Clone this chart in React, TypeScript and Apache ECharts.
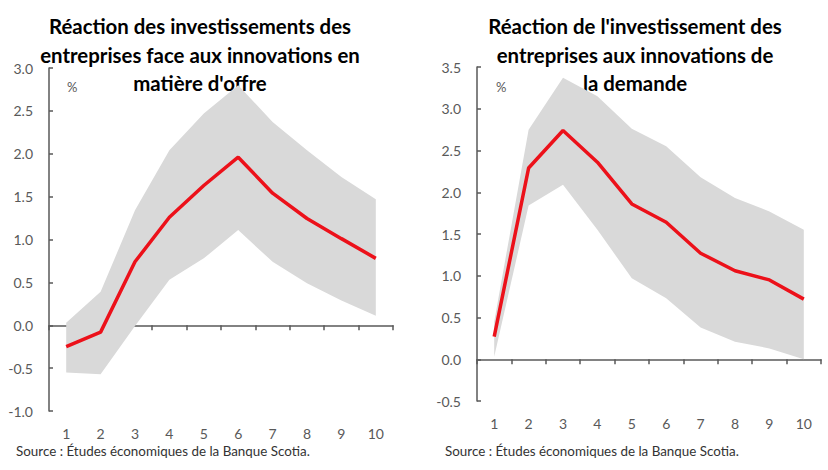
import { useRef, useEffect } from "react";
import * as echarts from "echarts";

const periods = ["1", "2", "3", "4", "5", "6", "7", "8", "9", "10"];

// supply shock (left panel)
const supplyMid = [-0.25, -0.08, 0.74, 1.26, 1.63, 1.96, 1.54, 1.245, 1.01, 0.78];
const supplyUpper = [0.03, 0.39, 1.34, 2.04, 2.47, 2.8, 2.37, 2.04, 1.73, 1.47];
const supplyLower = [-0.55, -0.57, -0.01, 0.53, 0.78, 1.11, 0.74, 0.49, 0.29, 0.11];

// demand shock (right panel)
const demandMid = [0.27, 2.29, 2.74, 2.36, 1.86, 1.64, 1.27, 1.06, 0.95, 0.72];
const demandUpper = [0.45, 2.75, 3.37, 3.15, 2.76, 2.55, 2.18, 1.93, 1.77, 1.55];
const demandLower = [0.03, 1.84, 2.09, 1.55, 0.97, 0.73, 0.38, 0.21, 0.13, 0.0];

const titleLeft = "Réaction des investissements des\nentreprises face aux innovations en\nmatière d'offre";
const titleRight = "Réaction de l'investissement des\nentreprises aux innovations de\nla demande";
const sourceText = "Source : Études économiques de la Banque Scotia.";

const RED = "#ec111a";
const BAND = "#d9d9d9";
const AXIS = "#595959";
const FONT = "Lato, 'Open Sans', sans-serif";

function xAxes(gridIndex: number, labelMargin: number) {
  return [
    {
      type: "category" as const,
      gridIndex,
      data: periods,
      boundaryGap: true,
      axisLine: { onZero: true, lineStyle: { color: AXIS, width: 1.5 } },
      axisTick: { show: true, interval: 0, length: 5, lineStyle: { color: AXIS, width: 1.5 } },
      axisLabel: { show: false },
      splitLine: { show: false },
    },
    {
      type: "category" as const,
      gridIndex,
      data: periods,
      position: "bottom" as const,
      boundaryGap: true,
      axisLine: { show: false, onZero: false },
      axisTick: { show: false },
      axisLabel: { interval: 0, color: AXIS, fontSize: 14, fontFamily: FONT, margin: labelMargin },
      splitLine: { show: false },
    },
  ];
}

function yAxis(gridIndex: number, min: number, max: number) {
  return {
    type: "value" as const,
    gridIndex,
    min,
    max,
    interval: 0.5,
    axisLine: { show: true, lineStyle: { color: AXIS, width: 1.5 } },
    axisTick: { show: true, inside: true, length: 4, lineStyle: { color: AXIS, width: 1.5 } },
    axisLabel: {
      color: AXIS,
      fontSize: 14,
      fontFamily: FONT,
      margin: 16,
      formatter: (v: number) => v.toFixed(1),
    },
    splitLine: { show: false },
  };
}

function bandSeries(xIdx: number, yIdx: number, lower: number[], upper: number[], mid: number[], key: string) {
  return [
    {
      type: "line",
      xAxisIndex: xIdx,
      yAxisIndex: yIdx,
      data: lower,
      stack: key,
      stackStrategy: "all",
      symbol: "none",
      silent: true,
      lineStyle: { opacity: 0 },
    },
    {
      type: "line",
      xAxisIndex: xIdx,
      yAxisIndex: yIdx,
      data: upper.map((u, i) => +(u - lower[i]).toFixed(3)),
      stack: key,
      stackStrategy: "all",
      symbol: "none",
      silent: true,
      lineStyle: { opacity: 0 },
      areaStyle: { color: BAND, opacity: 1 },
    },
    {
      type: "line",
      xAxisIndex: xIdx,
      yAxisIndex: yIdx,
      data: mid,
      symbol: "none",
      z: 5,
      lineStyle: { color: RED, width: 3.5 },
    },
  ];
}

export default function App() {
  const chartRef = useRef<HTMLDivElement>(null);

  useEffect(() => {
    if (!chartRef.current) return;
    const chart = echarts.init(chartRef.current, undefined, { renderer: "svg" });

    const titleStyle = {
      fill: "#000",
      font: `bold 20.4px ${FONT}`,
      textAlign: "center",
      textVerticalAlign: "top",
      lineHeight: 28.5,
    };
    const smallStyle = { fill: "#333", font: `13.4px ${FONT}` };

    const option: any = {
      animation: false,
      backgroundColor: "#fff",
      grid: [
        { left: 49, top: 68, width: 344, height: 343 },
        { left: 477, top: 67, width: 344, height: 334 },
      ],
      xAxis: [...xAxes(0, 15), ...xAxes(1, 15)],
      yAxis: [yAxis(0, -1, 3), yAxis(1, -0.5, 3.5)],
      series: [
        ...bandSeries(0, 0, supplyLower, supplyUpper, supplyMid, "supply"),
        ...bandSeries(2, 1, demandLower, demandUpper, demandMid, "demand"),
      ],
      graphic: [
        { type: "text", x: 200, y: 12, style: { ...titleStyle, text: titleLeft } },
        { type: "text", x: 635, y: 12, style: { ...titleStyle, text: titleRight } },
        { type: "text", x: 67, y: 80, style: { fill: AXIS, font: `13px ${FONT}`, text: "%" } },
        { type: "text", x: 496, y: 80, style: { fill: AXIS, font: `13px ${FONT}`, text: "%" } },
        { type: "text", x: 16, y: 444, style: { ...smallStyle, text: sourceText } },
        { type: "text", x: 445, y: 444, style: { ...smallStyle, text: sourceText } },
      ],
    };

    chart.setOption(option);
    return () => chart.dispose();
  }, []);

  return (
    <div style={{ position: "absolute", left: 0, top: 0, width: 828, height: 470, background: "#fff" }}>
      <div ref={chartRef} style={{ width: 828, height: 470 }} />
    </div>
  );
}
